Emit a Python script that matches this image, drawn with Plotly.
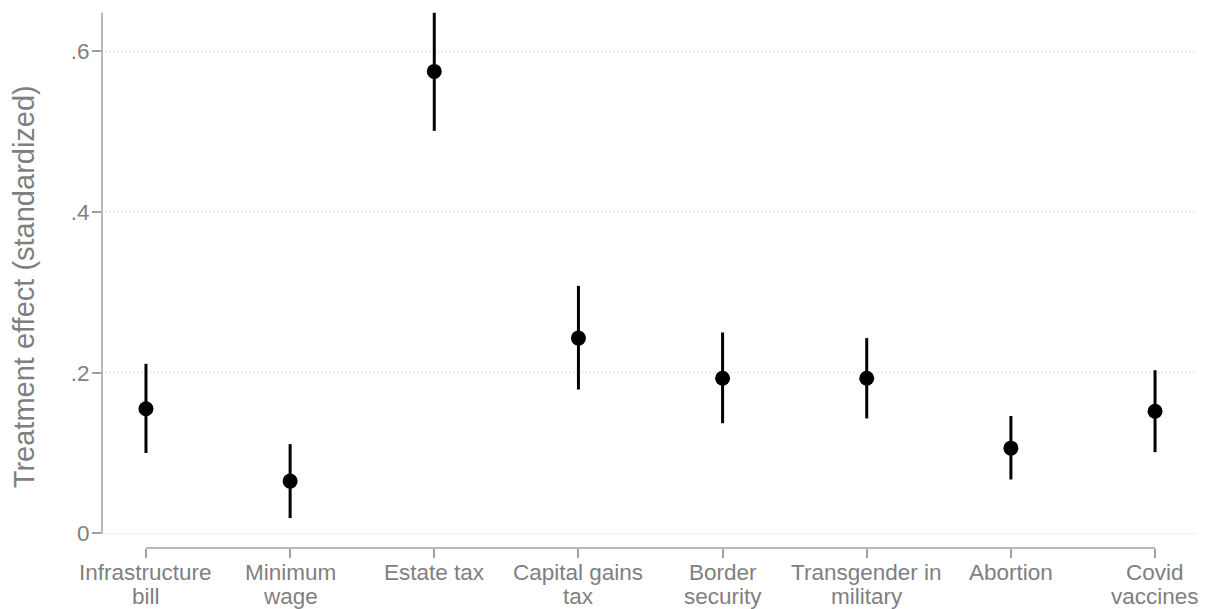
import plotly.graph_objects as go

# Topics, in display order, each label split over up to two lines
topic_line1 = ["Infrastructure", "Minimum", "Estate tax", "Capital gains",
               "Border", "Transgender in", "Abortion", "Covid"]
topic_line2 = ["bill", "wage", "", "tax", "security", "military", "", "vaccines"]

# Point estimates and 95% confidence bounds
estimate = [0.155, 0.065, 0.575, 0.243, 0.193, 0.193, 0.106, 0.152]
ci_low = [0.100, 0.019, 0.501, 0.179, 0.137, 0.143, 0.067, 0.101]
ci_high = [0.211, 0.111, 0.648, 0.308, 0.250, 0.243, 0.146, 0.203]

ytick_vals = [0, 0.2, 0.4, 0.6]
ytick_text = ["0", ".2", ".4", ".6"]

FONT = "Liberation Sans, Arial, Helvetica, sans-serif"
TEXT_GRAY = "#7f7f7f"
AXIS_GRAY = "#a0a0a0"
GRID_GRAY = "#c4c4c4"
LABEL_SIZE = 22.5

xpos = list(range(1, len(estimate) + 1))
err_plus = [h - e for h, e in zip(ci_high, estimate)]
err_minus = [e - l for e, l in zip(estimate, ci_low)]

x_range = [0.695, 8.298]
y_range = [-0.0183, 0.6502]

fig = go.Figure()
fig.add_trace(go.Scatter(
    x=xpos, y=estimate, mode="markers",
    marker=dict(size=15, color="black", line=dict(width=0)),
    error_y=dict(type="data", symmetric=False, array=err_plus,
                 arrayminus=err_minus, thickness=3, width=0, color="black"),
    showlegend=False, hoverinfo="skip",
))

shapes = [
    # vertical axis line, spanning zero to the top of the data
    dict(type="line", xref="paper", yref="y", x0=0, x1=0,
         y0=0, y1=max(ci_high), line=dict(color=AXIS_GRAY, width=1.5)),
    # horizontal axis line, spanning first to last topic
    dict(type="line", xref="x", yref="paper", x0=xpos[0], x1=xpos[-1],
         y0=0, y1=0, line=dict(color=AXIS_GRAY, width=1.5)),
]

annotations = []
for xi, l1, l2 in zip(xpos, topic_line1, topic_line2):
    annotations.append(dict(
        x=xi, y=0, xref="x", yref="paper", text=l1, showarrow=False,
        xanchor="center", yanchor="top", yshift=-10,
        font=dict(family=FONT, size=LABEL_SIZE, color=TEXT_GRAY)))
    if l2:
        annotations.append(dict(
            x=xi, y=0, xref="x", yref="paper", text=l2, showarrow=False,
            xanchor="center", yanchor="top", yshift=-34,
            font=dict(family=FONT, size=LABEL_SIZE, color=TEXT_GRAY)))

annotations.append(dict(
    x=-0.071, y=0.486, xref="paper", yref="paper",
    text="Treatment effect (standardized)", textangle=-90, showarrow=False,
    xanchor="center", yanchor="middle",
    font=dict(family=FONT, size=29, color=TEXT_GRAY)))

fig.update_layout(
    width=1211, height=609,
    margin=dict(l=102, r=13, t=11, b=61, pad=0),
    paper_bgcolor="white", plot_bgcolor="white",
    font=dict(family=FONT, color=TEXT_GRAY),
    shapes=shapes, annotations=annotations,
    xaxis=dict(range=x_range, tickvals=xpos, ticktext=[""] * len(xpos),
               showticklabels=False, ticks="outside", ticklen=9, tickwidth=1.5,
               tickcolor=AXIS_GRAY, showgrid=False, zeroline=False,
               showline=False, fixedrange=True),
    yaxis=dict(range=y_range, tickvals=ytick_vals, ticktext=ytick_text,
               ticks="outside", ticklen=9, tickwidth=1.5, tickcolor=AXIS_GRAY,
               ticklabelstandoff=-2,
               tickfont=dict(family=FONT, size=LABEL_SIZE, color=TEXT_GRAY),
               showgrid=True, gridcolor=GRID_GRAY, gridwidth=1,
               griddash="1px,3px", zeroline=False, showline=False,
               fixedrange=True),
)

fig.write_html("out.html")
